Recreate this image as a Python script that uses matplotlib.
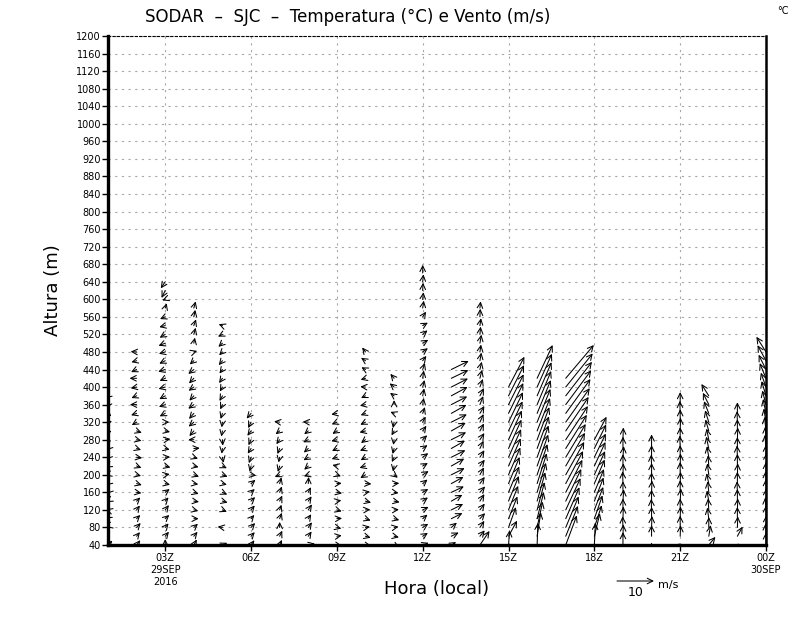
import matplotlib
matplotlib.use("Agg")
import matplotlib.pyplot as plt

# horas (UTC) de cada perfil do SODAR: 01Z .. 00Z do dia seguinte
horas = list(range(1, 25))
rotulos_x = ['03Z\n29SEP\n2016', '06Z', '09Z', '12Z', '15Z', '18Z', '21Z', '00Z\n30SEP']
ticks_x = [3, 6, 9, 12, 15, 18, 21, 24]
ticks_y = list(range(40, 1201, 40))

# niveis a cada 20 m a partir de 40 m; u, v em m/s (None = sem dado)
u01 = [1.2, 0.3, -0.5, -0.8, -0.6, -0.5, -0.4, -0.6, -0.8, -0.7, -0.6, -0.5, 0.8, 1.0, 1.1, 0.9, -0.6, -0.8]
v01 = [1.2, 0.6, 0.4, 0.3, 0.2, -0.3, -0.4, -0.5, -0.3, -0.4, -0.6, -0.5, -0.6, -0.3, 0.2, -0.8, -0.9, -0.6]
u02 = [1.0, 0.9, 1.1, 1.0, 0.9, 1.0, 1.3, 1.4, 1.2, 1.3, 1.5, 1.2, 1.3, 1.4, -1.3, -1.5, -1.8, -1.4, -1.6, -1.9, -1.5, -1.4, -1.6]
v02 = [1.3, 1.1, 1.2, 1.0, 1.2, 1.0, -0.2, -0.4, -0.3, -0.5, -0.2, -0.4, -0.3, -0.5, -0.8, -0.5, 0.0, -0.6, -0.3, 0.0, -0.7, -0.4, 0.1]
u03 = [0.0, 1.0, 0.9, 1.1, 1.0, 0.9, 1.2, 1.3, 1.2, 1.4, 1.3, 1.2, 1.4, 1.3, 1.1,
       -1.5, -1.7, -1.6, -1.8, -1.5, -1.9, -1.6, -1.7, -1.8, -1.5, -1.6, -1.4, 0.4, -0.8, -1.0, -1.2]
v03 = [1.6, 1.2, 1.1, 1.0, 1.3, 1.0, 0.9, -0.3, 0.2, -0.4, 0.1, -0.3, 0.2, -0.3, 0.0,
       -0.8, -0.6, -0.9, -0.5, -0.7, -0.6, -0.8, -0.5, -0.7, -0.9, -0.4, -0.6, 1.3, -0.3, -2.0, -1.8]
u04 = [0.8, 1.0, 1.1, 1.3, 1.2, 1.4, 1.3, 1.2, 1.4, 1.3, 1.1, 1.6, -1.5, -1.2, -1.4, -1.3, -1.5, -1.2,
       -1.4, -1.3, -1.5, -1.1, 0.9, 0.3, 0.5, 0.6, 0.4, 0.5]
v04 = [1.5, 1.2, 1.0, 0.0, -0.3, -0.2, -0.4, -0.2, -0.5, -0.3, -0.4, 0.1, 0.0, -1.4, -1.2, -1.5, -1.1, -1.3,
       -1.0, -1.4, -1.2, -1.0, 0.3, 1.5, 1.8, 1.7, 1.9, 1.8]
u05 = [1.3, None, -1.3, None, 1.2, 1.4, 1.3, 1.2, 1.4, 1.2, 0.3, -0.2, 0.1, -0.3, -0.2, -0.5, -0.6,
       -0.8, -0.7, -0.9, -0.8, -1.0, -0.9, -1.1, -1.2, -1.0]
v05 = [0.6, None, 0.2, None, -0.5, -0.4, -0.6, -0.3, -0.5, -0.6, -1.5, -1.4, -1.6, -1.5, -1.4, -1.5, -1.3,
       -1.4, -1.2, -1.3, -1.1, -1.2, -0.9, -1.0, -0.6, 0.4]
u06 = [0.9, 1.0, 1.1, 0.9, 1.0, 1.1, 1.0, 1.2, 1.4, -0.4, -0.6, -0.9, -0.7, -1.0, -0.8, -1.2]
v06 = [1.3, 1.1, 1.2, 1.0, 1.2, 1.1, 0.9, 1.0, -0.2, -1.5, -1.6, -1.4, -1.5, -1.3, -1.6, -1.4]
u07 = [0.6, 0.7, 0.0, 0.6, 0.5, 0.7, 0.6, 0.5, -1.3, -0.5, -0.3, -0.6, -0.9, -1.1, -1.5]
v07 = [1.4, 1.5, 1.5, 1.6, 1.4, 1.5, 1.6, 1.7, -0.6, -1.6, -1.4, -1.5, -1.2, -0.9, 0.2]
u08 = [1.8, 0.9, 1.0, 0.8, 1.0, 0.9, 0.7, 0.1, -1.2, -1.1, -1.3, -1.2, -1.4, -1.1, -1.5]
v08 = [0.4, 1.3, 1.4, 1.2, 1.5, 1.3, 1.4, 1.8, -0.4, -1.0, -0.8, -1.1, -0.7, -0.9, 0.1]
u09 = [1.4, 1.3, 1.2, 1.4, 1.3, 1.2, 1.4, 1.3, 1.1, -1.2, -1.4, -1.3, -1.5, -1.2, -1.4, -1.5]
v09 = [-0.2, 0.2, -0.3, 0.1, -0.4, 0.2, -0.3, 0.1, -0.4, 0.3, -0.5, -0.7, -0.4, -0.8, -0.6, -0.3]
u10 = [1.6, 1.4, 1.2, 1.4, 1.3, 1.5, 1.2, 1.6, -1.4, -1.6, -1.3, -1.5, -1.2, -1.6, -1.4, -1.3, -1.5,
       -1.2, -1.4, -1.3, -1.1, -1.2, -0.9]
v10 = [-0.3, -0.4, 0.2, -0.5, 0.1, -0.4, 0.2, -0.1, -0.9, -0.5, -0.8, -0.6, -0.9, -0.4, -0.7, -0.5, -0.3,
       -0.6, 0.1, -0.4, 0.6, 0.8, 1.2]
u11 = [1.5, 1.3, 1.2, 1.4, 1.3, 1.5, 1.2, 1.4, 1.0, -0.3, -0.6, -0.4, -0.2, -0.7, -0.3, -1.0, 0.0, -1.1, -1.2, -1.0]
v11 = [-0.8, -0.3, 0.2, -0.4, 0.1, -0.3, -0.2, 0.1, -0.8, -1.5, -1.3, -1.5, -1.4, -1.2, -1.6, 0.4, 1.2, 0.8, 1.0, 1.2]
u12 = [1.6, 1.4, 1.5, 1.3, 1.6, 1.4, 1.5, 1.3, 1.6, 1.4, 1.5, 1.3, 1.2, 1.0, 0.8, 0.6, 0.3, 0.4, 0.5, 0.3,
       0.6, 1.0, 1.4, 1.5, 1.3, 1.4, 0.9, 0.3, 0.2, 0.1, 0.2, 0.0]
v12 = [0.6, 0.9, 1.0, 1.1, 0.8, 1.0, 0.9, 1.1, 1.0, 0.8, 1.1, 0.9, 1.2, 1.4, 1.5, 1.7, 1.8, 2.0, 1.9, 2.1,
       1.8, 1.3, 1.0, 0.9, 1.1, 0.8, 1.4, 2.0, 1.9, 2.1, 2.0, 2.2]
u13 = [1.3, 2.0, 1.5, 3.0, 3.2, 3.0, 3.4, 3.3, 3.6, 3.5, 3.8, 3.7, 4.0, 3.9, 4.2, 4.1, 4.3, 4.4, 4.5, 4.6, 4.7]
v13 = [0.8, 1.0, 1.3, 1.5, 1.6, 1.7, 1.6, 1.8, 1.8, 2.0, 1.9, 2.1, 2.0, 2.2, 2.1, 2.3, 2.2, 2.4, 2.3, 2.2, 2.3]
u14 = [2.6, 1.3, 1.2, 1.4, 1.3, 1.2, 1.4, 1.3, 1.1, 1.3, 1.2, 1.0, 1.2, 1.1, 1.0, 1.2, 0.9, 1.1, 0.8, 0.6,
       0.5, 0.4, 0.3, 0.4, 0.2, 0.3, 0.1, 0.2]
v14 = [3.8, 1.6, 1.8, 1.5, 1.7, 1.9, 1.6, 1.8, 2.0, 1.7, 1.9, 2.1, 1.8, 2.0, 2.2, 2.0, 2.3, 2.1, 2.2, 2.3,
       2.1, 2.2, 2.0, 2.3, 2.1, 2.0, 2.2, 1.8]
u15 = [0.3, 2.3, 2.0, 2.4, 2.6, 2.8, 2.9, 3.0, 3.2, 3.3, 3.4, 3.5, 3.6, 3.8, 3.9, 4.0, 4.1, 4.2, 4.3]
v15 = [4.0, 4.2, 5.5, 6.0, 6.5, 6.8, 7.0, 7.2, 7.4, 7.5, 7.6, 7.8, 7.9, 8.0, 8.1, 8.2, 8.2, 8.3, 8.2]
u16 = [0.2, 1.0, 1.5, 1.8, 2.0, 2.2, 2.4, 2.6, 2.8, 3.0, 3.1, 3.2, 3.3, 3.5, 3.6, 3.7, 3.8, 3.9, 4.0, 4.2]
v16 = [6.0, 6.5, 7.0, 7.2, 7.5, 7.8, 8.0, 8.2, 8.3, 8.5, 8.6, 8.7, 8.8, 8.9, 9.0, 9.0, 9.1, 9.1, 9.0, 9.0]
u17 = [3.0, 3.3, 3.5, 3.7, 4.0, 4.2, 4.5, 4.7, 5.0, 5.2, 5.4, 5.7, 6.0, 6.2, 6.5, 6.7, 6.9, 7.1, 7.3, 7.6]
v17 = [8.0, 8.2, 8.4, 8.5, 8.6, 8.7, 8.8, 8.8, 8.9, 9.0, 9.0, 9.1, 9.1, 9.2, 9.2, 9.3, 9.3, 9.2, 9.1, 9.0]
u18 = [0.3, 1.5, 2.0, 2.2, 2.4, 2.5, 2.6, 2.8, 2.9, 3.0, 3.1, 3.2, 3.3]
v18 = [6.0, 6.2, 6.0, 6.3, 6.2, 6.4, 6.3, 6.5, 6.4, 6.5, 6.4, 6.5, 6.2]
u19 = [0.0, 0.1, -0.1, 0.1, 0.0, 0.2, 0.0, -0.1, 0.1, 0.0, 0.2, 0.0, 0.1]
v19 = [3.5, 3.2, 3.0, 3.3, 3.1, 3.2, 3.0, 3.3, 3.1, 3.2, 3.0, 3.2, 3.3]
u20 = [0.0, 0.0, 0.1, 0.0, -0.1, 0.0, 0.1, 0.0, 0.0, -0.1, 0.0, 0.0]
v20 = [0.6, 3.0, 3.1, 3.2, 3.0, 3.1, 3.2, 3.0, 3.2, 3.1, 3.3, 3.8]
u21 = [-0.6, 0.1, 0.0, 0.1, 0.0, 0.2, 0.0, 0.1, 0.0, 0.1, 0.0, -0.1, 0.0, 0.1, 0.0, -0.1, 0.0]
v21 = [0.4, 3.0, 3.2, 3.3, 3.1, 3.4, 3.3, 3.2, 3.5, 3.4, 3.3, 3.5, 3.4, 3.6, 3.5, 3.4, 3.4]
u22 = [1.8, 0.5, 0.0, -0.4, -0.2, -0.5, -0.3, -0.6, -0.4, -0.2, -0.5, -0.7, -0.6, -0.9, -1.0, -1.3, -1.6, -2.0]
v22 = [2.2, 3.0, 2.8, 3.0, 3.1, 2.9, 3.0, 2.8, 3.1, 2.9, 3.0, 3.2, 3.0, 3.1, 3.2, 3.3, 3.2, 3.2]
u23 = [0.5, 1.4, 0.1, 0.0, 0.1, 0.0, -0.1, 0.0, 0.1, 0.0, -0.1, 0.0, 0.1, 0.0, -0.1, 0.0]
v23 = [0.4, 2.6, 3.0, 3.2, 3.1, 3.3, 3.0, 3.2, 3.1, 3.3, 3.2, 3.1, 3.3, 3.2, 3.0, 3.0]
u00 = [0.0, -0.1, 0.1, 0.0, -0.2, 0.1, 0.0, -0.1, 0.0, 0.2, 0.0, -0.3, -0.2, -0.4, -0.6, -0.8, -1.0,
       -1.2, -1.4, -1.7, -2.0, -2.3, -2.6]
v00 = [3.4, 3.5, 3.3, 3.6, 3.4, 3.5, 3.6, 3.4, 3.5, 3.6, 3.4, 3.7, 3.6, 3.8, 3.7, 3.9, 3.8,
       4.0, 3.9, 4.1, 4.0, 4.2, 4.1]

perfis_u = [u01, u02, u03, u04, u05, u06, u07, u08, u09, u10, u11, u12,
            u13, u14, u15, u16, u17, u18, u19, u20, u21, u22, u23, u00]
perfis_v = [v01, v02, v03, v04, v05, v06, v07, v08, v09, v10, v11, v12,
            v13, v14, v15, v16, v17, v18, v19, v20, v21, v22, v23, v00]

ALTURA_BASE = 40
PASSO = 20
PT_POR_MS = 2.66   # comprimento do vetor: 10 m/s ~ 37 px
vec_style = dict(arrowstyle='<-,head_length=0.4,head_width=0.2', color='black',
                 lw=0.75, shrinkA=0, shrinkB=0)

fig = plt.figure(figsize=(8, 6.18), dpi=100)
ax = fig.add_axes([0.135, 0.1181, 0.8225, 0.8236])

ax.set_xlim(1, 24)
ax.set_ylim(40, 1200)
ax.set_yticks(ticks_y)
ax.set_xticks(ticks_x)
ax.set_xticklabels(rotulos_x)
ax.tick_params(axis='both', labelsize=7, length=4, width=1, direction='out')
ax.tick_params(axis='x', pad=2)
ax.tick_params(axis='y', pad=1)
ax.grid(True, color='#a8a8a8', linestyle=(0, (2, 4)), linewidth=0.8)
ax.set_axisbelow(True)

for lado in ['left', 'bottom']:
    ax.spines[lado].set_linewidth(2.4)
ax.spines['right'].set_linewidth(1.8)
ax.spines['top'].set_linewidth(0.8)
ax.spines['top'].set_linestyle((0, (2, 2)))

# vetores de vento (cauda no ponto de grade, como no GrADS)
for hora, us, vs in zip(horas, perfis_u, perfis_v):
    for k, (u, v) in enumerate(zip(us, vs)):
        if u is None:
            continue
        alt = ALTURA_BASE + PASSO * k
        ann = ax.annotate('', xy=(hora, alt), xytext=(u * PT_POR_MS, v * PT_POR_MS),
                          textcoords='offset points', annotation_clip=False,
                          arrowprops=dict(vec_style))
        ann.arrow_patch.set_clip_box(ax.bbox)
        ann.arrow_patch.set_clip_on(True)

ax.set_ylabel('Altura (m)', fontsize=13)
ax.yaxis.set_label_coords(-0.07, 0.5)
ax.set_xlabel('Hora (local)', fontsize=13)
ax.xaxis.set_label_coords(0.5, -0.069)

fig.text(0.435, 0.972, 'SODAR  \u2013  SJC  \u2013  Temperatura (\u00b0C) e Vento (m/s)',
         ha='center', va='center', fontsize=12)
fig.text(0.978, 0.982, '\u00b0C', ha='center', va='center', fontsize=7)

# vetor de referencia (10 m/s)
fig.gca().annotate('', xy=(617 / 800, 1 - 581 / 618), xycoords='figure fraction',
                   xytext=(10 * PT_POR_MS, 0), textcoords='offset points',
                   arrowprops=dict(vec_style))
fig.text(636 / 800, 1 - 593 / 618, '10', ha='center', va='center', fontsize=9)
fig.text(668 / 800, 1 - 585 / 618, 'm/s', ha='center', va='center', fontsize=8)

fig.savefig('out.png', dpi=100)
